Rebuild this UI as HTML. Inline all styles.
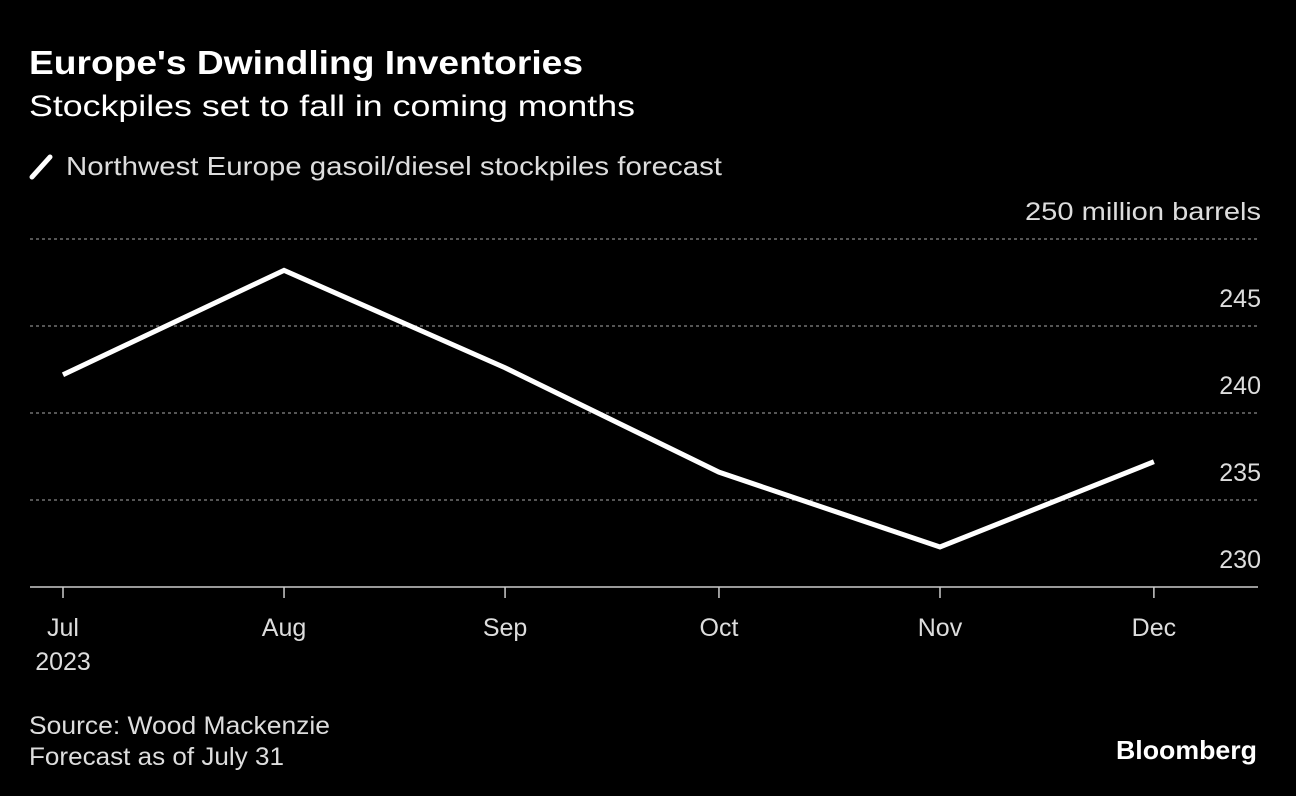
<!DOCTYPE html>
<html><head><meta charset="utf-8"><style>
body{margin:0;background:#000;width:1296px;height:796px;overflow:hidden;font-family:"Liberation Sans",sans-serif;color:#fff}
svg{position:absolute;left:0;top:0}
</style></head><body>
<svg width="1296" height="796">
<text x="29" y="74" font-size="33" font-weight="bold" fill="#fff" textLength="554" lengthAdjust="spacingAndGlyphs">Europe's Dwindling Inventories</text>
<text x="29" y="116" font-size="30" fill="#fff" textLength="606" lengthAdjust="spacingAndGlyphs">Stockpiles set to fall in coming months</text>
<line x1="32" y1="177" x2="50" y2="157" stroke="#fff" stroke-width="5" stroke-linecap="round"/>
<text x="66" y="175" font-size="26" fill="#ddd" textLength="656" lengthAdjust="spacingAndGlyphs">Northwest Europe gasoil/diesel stockpiles forecast</text>
<g id="grid"></g><g id="xax"></g>
<path id="line" fill="none" stroke="#fff" stroke-width="5" stroke-linejoin="miter"/>
<text x="29" y="734" font-size="25" fill="#ddd" textLength="301" lengthAdjust="spacingAndGlyphs">Source: Wood Mackenzie</text>
<text x="29" y="765" font-size="25" fill="#ddd" textLength="255" lengthAdjust="spacingAndGlyphs">Forecast as of July 31</text>
<text x="1257" y="759" font-size="26" font-weight="bold" fill="#fff" text-anchor="end" textLength="141" lengthAdjust="spacingAndGlyphs">Bloomberg</text>
</svg>
<script>
const months=["Jul","Aug","Sep","Oct","Nov","Dec"];
const dayOffsets=[0,31,62,92,123,153];
const values=[242.2,248.2,242.6,236.6,232.3,237.2];
const yTicks=[250,245,240,235,230];
const ns="http://www.w3.org/2000/svg";
const X=d=>63+d*7.13, Y=v=>587-(v-230)*17.4;
const grid=document.getElementById('grid'),xax=document.getElementById('xax');
function mk(tag,attrs,parent){const e=document.createElementNS(ns,tag);for(const k in attrs)e.setAttribute(k,attrs[k]);parent.appendChild(e);return e;}
yTicks.forEach(v=>{
 if(v!==230){const l=mk('line',{x1:30,x2:1258,y1:Y(v),y2:Y(v),stroke:'#888','stroke-width':1.2,'stroke-dasharray':'3,3'},grid);
 
 }
 const a={x:1261,y:Y(v)-19,'font-size':25,fill:'#ddd','text-anchor':'end'};
 if(v===250){a.textLength=236;a.lengthAdjust='spacingAndGlyphs';}
 const t=mk('text',a,grid);
 t.textContent=v===250?'250 million barrels':String(v);
 
 
});
const b=mk('line',{x1:30,x2:1258,y1:587,y2:587,stroke:'#ccc','stroke-width':1.5},xax);


months.forEach((m,i)=>{
 const x=X(dayOffsets[i]);
 const tk=mk('line',{x1:x,x2:x,y1:587,y2:598,stroke:'#ccc','stroke-width':1.5},xax);
 
 
 const t=mk('text',{x:x,y:636,'font-size':25,fill:'#ddd','text-anchor':'middle'},xax);
 t.textContent=m;
 
 
});
const yr=mk('text',{x:63,y:670,'font-size':25,fill:'#ddd','text-anchor':'middle'},xax);
yr.textContent='2023';


document.getElementById('line').setAttribute('d',values.map((v,i)=>(i?'L':'M')+X(dayOffsets[i])+','+Y(v)).join(' '));
</script>
</body></html>
